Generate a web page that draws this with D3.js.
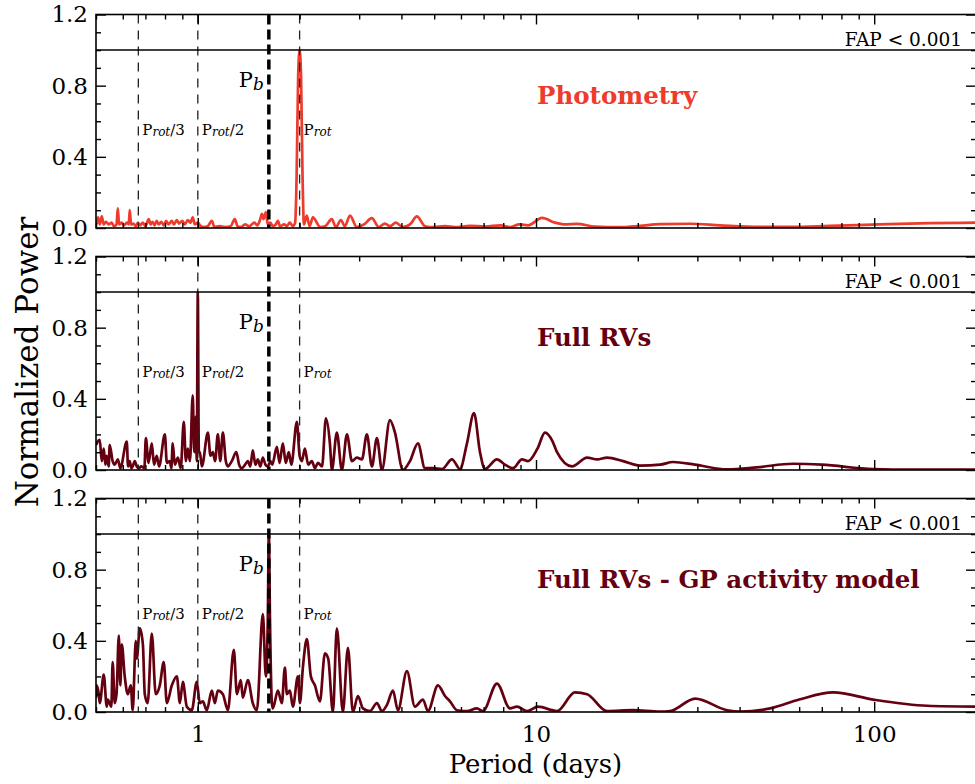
<!DOCTYPE html>
<html>
<head>
<meta charset="utf-8">
<script src="https://cdn.jsdelivr.net/npm/d3@7"></script>
<style>
    body { margin: 0; background: #fff; }
    svg { display: block; font-family: "DejaVu Serif", serif; }
</style>
</head>
<body>
<svg id="chart" width="975" height="784"></svg>
<script>
'use strict';

// Periodogram values (period in days, normalized power)
var photPeriod = [0.50, 0.5025, 0.507, 0.513, 0.520, 0.527, 0.535, 0.545, 0.5565, 0.565, 0.575, 0.580, 0.585, 0.595, 0.605, 0.617, 0.625, 0.629, 0.635, 0.645, 0.655, 0.665, 0.675, 0.688, 0.700, 0.716, 0.725, 0.735, 0.745, 0.756, 0.767, 0.780, 0.793, 0.806, 0.820, 0.838, 0.850, 0.867, 0.880, 0.900, 0.915, 0.934, 0.950, 0.966, 0.980, 1.0, 1.02, 1.045, 1.07, 1.10, 1.12, 1.16, 1.20, 1.25, 1.287, 1.31, 1.34, 1.38, 1.42, 1.47, 1.50, 1.53, 1.547, 1.565, 1.59, 1.61, 1.64, 1.667, 1.70, 1.725, 1.75, 1.80, 1.834, 1.87, 1.91, 1.94, 1.96, 1.98, 2.0, 2.02, 2.04, 2.06, 2.10, 2.14, 2.19, 2.30, 2.38, 2.49, 2.56, 2.65, 2.72, 2.82, 2.95, 3.10, 3.27, 3.43, 3.575, 3.70, 3.85, 4.04, 4.24, 4.445, 4.70, 4.96, 5.38, 5.76, 6.38, 7.07, 7.85, 8.38, 8.93, 9.47, 10.42, 11.38, 12.2, 13.2, 14.95, 17.7, 20.3, 23.3, 28.6, 35, 46, 56.5, 74, 104, 147, 200];
var photPower = [0.02, 0.03, 0.06, 0.02, 0.065, 0.02, 0.035, 0.02, 0.03, 0.01, 0.02, 0.11, 0.02, 0.03, 0.015, 0.03, 0.02, 0.10, 0.02, 0.025, 0.01, 0.03, 0.015, 0.03, 0.01, 0.05, 0.02, 0.035, 0.015, 0.04, 0.02, 0.035, 0.015, 0.04, 0.02, 0.04, 0.02, 0.045, 0.025, 0.04, 0.02, 0.045, 0.03, 0.06, 0.02, 0.03, 0.01, 0.005, 0.01, 0.04, 0.005, 0.01, 0.005, 0.01, 0.05, 0.01, 0.005, 0.02, 0.01, 0.03, 0.015, 0.05, 0.08, 0.05, 0.09, 0.02, 0.03, 0.01, 0.02, 0.04, 0.01, 0.02, 0.01, 0.03, 0.01, 0.03, 0.3, 0.85, 1.0, 0.85, 0.3, 0.02, 0.07, 0.01, 0.06, 0.005, 0.01, 0.05, 0.005, 0.045, 0.01, 0.07, 0.005, 0.02, 0.055, 0.005, 0.025, 0.01, 0.03, 0.005, 0.02, 0.065, 0.01, 0.005, 0.01, 0.005, 0.012, 0.008, 0.015, 0.005, 0.02, 0.015, 0.057, 0.03, 0.02, 0.023, 0.008, 0.005, 0.012, 0.022, 0.024, 0.015, 0.006, 0.006, 0.012, 0.02, 0.027, 0.03];

var rvPeriod = [0.50, 0.5025, 0.513, 0.520, 0.527, 0.533, 0.538, 0.545, 0.549, 0.560, 0.568, 0.580, 0.590, 0.6165, 0.622, 0.629, 0.636, 0.642, 0.651, 0.660, 0.670, 0.680, 0.695, 0.702, 0.715, 0.731, 0.742, 0.756, 0.768, 0.799, 0.810, 0.826, 0.835, 0.843, 0.855, 0.873, 0.890, 0.909, 0.922, 0.934, 0.948, 0.966, 0.976, 0.9865, 0.993, 1.0, 1.007, 1.0137, 1.028, 1.071, 1.090, 1.108, 1.125, 1.146, 1.165, 1.186, 1.21, 1.227, 1.26, 1.30, 1.325, 1.349, 1.38, 1.406, 1.43, 1.454, 1.48, 1.505, 1.53, 1.557, 1.585, 1.611, 1.64, 1.66, 1.713, 1.745, 1.784, 1.82, 1.858, 1.89, 1.963, 2.0, 2.031, 2.073, 2.12, 2.174, 2.22, 2.265, 2.33, 2.392, 2.458, 2.492, 2.577, 2.667, 2.76, 2.856, 2.954, 3.057, 3.162, 3.272, 3.385, 3.503, 3.699, 3.828, 4.041, 4.239, 4.476, 4.695, 4.958, 5.272, 5.644, 5.96, 6.25, 6.556, 6.83, 7.066, 7.666, 8.095, 8.551, 9.091, 9.47, 10.1, 10.63, 11.2, 11.54, 12.78, 14.16, 15.16, 16.23, 18.09, 20.31, 23.28, 25.43, 29.5, 36.74, 45, 57.61, 70, 99.3, 130, 200];
var rvPower = [0.14, 0.15, 0.17, 0.05, 0.12, 0.03, 0.08, 0.02, 0.14, 0.05, 0.03, 0.06, 0.01, 0.16, 0.02, 0.05, 0.01, 0.02, 0.05, 0.02, 0.01, 0.02, 0.01, 0.18, 0.04, 0.15, 0.03, 0.08, 0.02, 0.20, 0.04, 0.05, 0.01, 0.15, 0.03, 0.07, 0.01, 0.27, 0.05, 0.12, 0.05, 0.42, 0.1, 0.3, 0.05, 1.0, 0.1, 0.1, 0.02, 0.21, 0.08, 0.1, 0.05, 0.2, 0.05, 0.21, 0.05, 0.02, 0.05, 0.1, 0.03, 0.01, 0.03, 0.05, 0.02, 0.11, 0.03, 0.06, 0.02, 0.07, 0.03, 0.02, 0.05, 0.03, 0.13, 0.04, 0.15, 0.04, 0.1, 0.03, 0.27, 0.08, 0.05, 0.12, 0.03, 0.05, 0.01, 0.04, 0.02, 0.29, 0.15, 0.0, 0.21, 0.0, 0.2, 0.05, 0.07, 0.06, 0.2, 0.02, 0.18, 0.0, 0.28, 0.21, 0.0, 0.05, 0.15, 0.01, 0.01, 0.005, 0.06, 0.005, 0.15, 0.32, 0.1, 0.005, 0.06, 0.03, 0.01, 0.06, 0.05, 0.12, 0.21, 0.16, 0.1, 0.02, 0.07, 0.06, 0.07, 0.05, 0.025, 0.03, 0.045, 0.03, 0.003, 0.015, 0.035, 0.03, 0.005, 0.002, 0.002];

var resPeriod = [0.50, 0.5025, 0.5095, 0.513, 0.527, 0.538, 0.5417, 0.555, 0.560, 0.568, 0.575, 0.584, 0.590, 0.596, 0.608, 0.621, 0.6335, 0.642, 0.6556, 0.660, 0.674, 0.688, 0.697, 0.711, 0.731, 0.751, 0.772, 0.793, 0.810, 0.838, 0.867, 0.885, 0.903, 0.928, 0.960, 0.993, 1.0137, 1.035, 1.063, 1.10, 1.123, 1.146, 1.186, 1.227, 1.278, 1.305, 1.34, 1.359, 1.406, 1.454, 1.495, 1.557, 1.589, 1.61, 1.622, 1.635, 1.656, 1.667, 1.725, 1.772, 1.809, 1.834, 1.872, 1.91, 1.977, 2.004, 2.045, 2.101, 2.159, 2.219, 2.296, 2.376, 2.43, 2.509, 2.577, 2.685, 2.779, 2.875, 2.975, 3.078, 3.228, 3.385, 3.503, 3.624, 3.776, 3.906, 4.153, 4.385, 4.631, 4.791, 5.13, 5.381, 5.568, 5.839, 6.251, 6.69, 6.97, 7.666, 8.376, 8.786, 9.406, 10.14, 11.54, 13.04, 14.16, 16.23, 19.36, 23.28, 24.92, 29.54, 36.74, 40.14, 49.25, 60, 75.63, 99.3, 143.5, 200];
var resPower = [0.08, 0.15, 0.1, 0.05, 0.21, 0.03, 0.07, 0.03, 0.28, 0.05, 0.1, 0.43, 0.15, 0.38, 0.2, 0.1, 0.15, 0.01, 0.4, 0.3, 0.47, 0.38, 0.1, 0.05, 0.44, 0.1, 0.15, 0.28, 0.05, 0.15, 0.2, 0.05, 0.17, 0.03, 0.01, 0.17, 0.05, 0.06, 0.01, 0.12, 0.05, 0.12, 0.1, 0.01, 0.35, 0.1, 0.18, 0.08, 0.18, 0.05, 0.01, 0.55, 0.2, 0.5, 1.0, 0.5, 0.05, 0.02, 0.12, 0.05, 0.25, 0.1, 0.12, 0.03, 0.2, 0.05, 0.25, 0.41, 0.2, 0.15, 0.06, 0.33, 0.3, 0.0, 0.47, 0.0, 0.36, 0.0, 0.09, 0.02, 0.005, 0.05, 0.005, 0.04, 0.12, 0.01, 0.23, 0.03, 0.07, 0.005, 0.15, 0.09, 0.06, 0.01, 0.005, 0.02, 0.005, 0.16, 0.02, 0.03, 0.005, 0.03, 0.005, 0.11, 0.1, 0.005, 0.01, 0.002, 0.005, 0.075, 0.01, 0.002, 0.02, 0.07, 0.11, 0.07, 0.035, 0.03];

// Reference periods (days): Prot/3, Prot/2, Pb, Prot
var markerPeriods = [0.667, 1.0, 1.622, 2.0];
var markerNames = ['/3', '/2', 'b', ''];

var panelTitles = ['Photometry', 'Full RVs', 'Full RVs - GP activity model'];
var panelColors = ['#ee3b2b', '#650010', '#650010'];

var xMajorTicks = [1, 10, 100];
var yMajorTicks = [0, 0.4, 0.8, 1.2];
var yMinorTicks = [0.1, 0.2, 0.3, 0.5, 0.6, 0.7, 0.9, 1.0, 1.1];
var fapLevel = 1.0;

var panels = [
    { period: photPeriod, power: photPower },
    { period: rvPeriod, power: rvPower },
    { period: resPeriod, power: resPower }
];

var svg = d3.select('#chart'),
    left = 96,
    right = 976,
    panelTop = [14.5, 256.5, 498.5],
    panelHeight = 213.5;

var x = d3.scaleLog().domain([0.5, 200]).range([left, right]);

// minor log ticks: 2..9 of each decade that fall inside the domain
var xMinorTicks = [];
[0.1, 1, 10, 100].forEach(function (dec) {
    for (let k = 2; k <= 9; k++) {
        let v = dec * k;
        if (v >= 0.5 && v <= 200 && xMajorTicks.indexOf(v) < 0) {
            xMinorTicks.push(v);
        }
    }
});

function styleAxis(g) {
    g.select('.domain').remove();
    g.selectAll('.tick line').attr('stroke', '#000').attr('stroke-width', 1.4);
    g.selectAll('.tick text').attr('font-family', '"DejaVu Serif", serif').attr('fill', '#000');
}

svg.append('defs').selectAll('clipPath')
    .data(panelTop)
    .enter().append('clipPath')
    .attr('id', (d, i) => 'clip' + i)
    .append('rect')
    .attr('x', left)
    .attr('y', d => d)
    .attr('width', right - left)
    .attr('height', panelHeight);

panels.forEach(function (p, i) {
    var top = panelTop[i],
        bottom = top + panelHeight,
        y = d3.scaleLinear().domain([0, 1.2]).range([bottom, top]),
        g = svg.append('g').attr('class', 'panel'),
        data = p.period.map((d, j) => [d, p.power[j]]),
        line = d3.line()
            .x(d => x(d[0]))
            .y(d => y(d[1]))
            .curve(d3.curveMonotoneX);

    // periodogram
    g.append('path')
        .datum(data)
        .attr('clip-path', 'url(#clip' + i + ')')
        .attr('fill', 'none')
        .attr('stroke', panelColors[i])
        .attr('stroke-width', 2.7)
        .attr('stroke-linejoin', 'round')
        .attr('d', line);

    // reference period lines
    g.selectAll('line.marker')
        .data(markerPeriods)
        .enter().append('line')
        .attr('class', 'marker')
        .attr('x1', d => x(d))
        .attr('x2', d => x(d))
        .attr('y1', top)
        .attr('y2', bottom)
        .attr('stroke', (d, j) => j === 2 ? '#000' : '#222')
        .attr('stroke-width', (d, j) => j === 2 ? 3.5 : 1.3)
        .attr('stroke-dasharray', (d, j) => j === 2 ? '10,5' : '9,7');

    // FAP threshold
    g.append('line')
        .attr('x1', left)
        .attr('x2', right)
        .attr('y1', y(fapLevel))
        .attr('y2', y(fapLevel))
        .attr('stroke', '#000')
        .attr('stroke-width', 1.5);

    g.append('text')
        .attr('x', 962)
        .attr('y', y(fapLevel) - 4)
        .attr('text-anchor', 'end')
        .attr('font-size', 18.5)
        .text('FAP < 0.001');

    // Prot labels
    markerPeriods.forEach(function (m, j) {
        var t;
        if (j === 2) {
            t = g.append('text')
                .attr('x', x(m) - 5)
                .attr('y', y(0.79))
                .attr('text-anchor', 'end')
                .attr('font-size', 21);
            t.append('tspan').text('P');
            t.append('tspan').attr('font-style', 'italic').attr('font-size', 17).attr('dy', 3).text('b');
            return;
        }
        t = g.append('text')
            .attr('x', x(m) + 4)
            .attr('y', y(0.52))
            .attr('font-size', 15);
        t.append('tspan').text('P');
        t.append('tspan').attr('font-style', 'italic').attr('font-size', 12).attr('dy', 1).text('rot');
        if (markerNames[j]) {
            t.append('tspan').attr('dy', -1).text(markerNames[j]);
        }
    });

    // panel title
    g.append('text')
        .attr('x', 537)
        .attr('y', y(0.695))
        .attr('font-size', 24.5)
        .attr('font-weight', 'bold')
        .attr('fill', panelColors[i])
        .text(panelTitles[i]);

    // axes, ticks pointing inward on all four sides
    g.append('g')
        .attr('transform', 'translate(0,' + bottom + ')')
        .call(d3.axisBottom(x).tickValues(xMajorTicks).tickSize(-10)
            .tickPadding(i === 2 ? 14 : 0).tickFormat(i === 2 ? d3.format('d') : ''))
        .call(styleAxis)
        .selectAll('.tick text').attr('font-size', 23);
    g.append('g')
        .attr('transform', 'translate(0,' + bottom + ')')
        .call(d3.axisBottom(x).tickValues(xMinorTicks).tickSize(-5).tickFormat(''))
        .call(styleAxis);
    g.append('g')
        .attr('transform', 'translate(0,' + top + ')')
        .call(d3.axisTop(x).tickValues(xMajorTicks).tickSize(-10).tickFormat(''))
        .call(styleAxis);
    g.append('g')
        .attr('transform', 'translate(0,' + top + ')')
        .call(d3.axisTop(x).tickValues(xMinorTicks).tickSize(-5).tickFormat(''))
        .call(styleAxis);

    g.append('g')
        .attr('transform', 'translate(' + left + ',0)')
        .call(d3.axisLeft(y).tickValues(yMajorTicks).tickSize(-10).tickPadding(8).tickFormat(d3.format('.1f')))
        .call(styleAxis)
        .selectAll('.tick text').attr('font-size', 23);
    g.append('g')
        .attr('transform', 'translate(' + left + ',0)')
        .call(d3.axisLeft(y).tickValues(yMinorTicks).tickSize(-5).tickFormat(''))
        .call(styleAxis);
    g.append('g')
        .attr('transform', 'translate(' + right + ',0)')
        .call(d3.axisRight(y).tickValues(yMajorTicks).tickSize(-10).tickFormat(''))
        .call(styleAxis);
    g.append('g')
        .attr('transform', 'translate(' + right + ',0)')
        .call(d3.axisRight(y).tickValues(yMinorTicks).tickSize(-5).tickFormat(''))
        .call(styleAxis);

    // frame
    g.append('rect')
        .attr('x', left)
        .attr('y', top)
        .attr('width', right - left)
        .attr('height', panelHeight)
        .attr('fill', 'none')
        .attr('stroke', '#000')
        .attr('stroke-width', 1.6);
});

svg.append('text')
    .attr('x', (left + 975) / 2)
    .attr('y', 773)
    .attr('text-anchor', 'middle')
    .attr('font-size', 26)
    .text('Period (days)');

svg.append('text')
    .attr('transform', 'translate(38,362) rotate(-90)')
    .attr('text-anchor', 'middle')
    .attr('font-size', 31)
    .text('Normalized Power');
</script>
</body>
</html>
